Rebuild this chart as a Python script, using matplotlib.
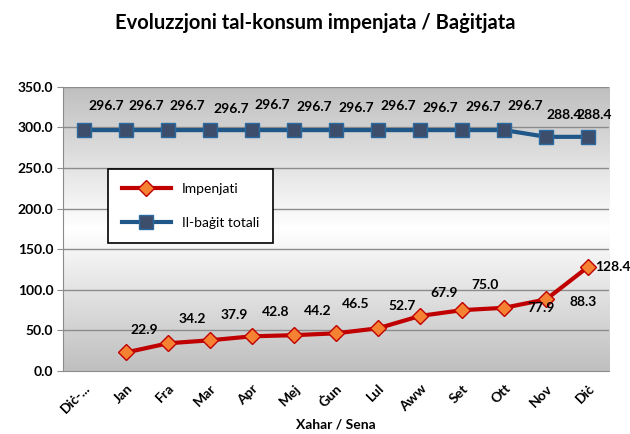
import matplotlib.pyplot as plt
import numpy as np
from matplotlib.colors import LinearSegmentedColormap

months = ['Diċ-...', 'Jan', 'Fra', 'Mar', 'Apr', 'Mej', 'Ġun', 'Lul',
          'Aww', 'Set', 'Ott', 'Nov', 'Diċ']
impenjati = [np.nan, 22.9, 34.2, 37.9, 42.8, 44.2, 46.5, 52.7,
             67.9, 75.0, 77.9, 88.3, 128.4]
baghit = [296.7, 296.7, 296.7, 296.7, 296.7, 296.7, 296.7, 296.7,
          296.7, 296.7, 296.7, 288.4, 288.4]
yticks = [0, 50, 100, 150, 200, 250, 300, 350]

# label offsets in pixels (Excel placed them a bit oddly)
red_offsets = [None, (18, 22), (24, 24), (24, 25), (24, 24), (24, 24), (20, 29),
               (24, 22), (24, 23), (23, 25), (37, 0), (37, -3), (7, 0)]
blue_offsets = [(22, 24), (20, 24), (19, 24), (21, 21), (20, 25), (20, 23), (20, 22),
                (20, 24), (20, 22), (21, 23), (21, 24), (18, 22), (6, 22)]

plt.rcParams['font.family'] = ['Lato', 'DejaVu Sans']

fig = plt.figure(figsize=(6.3, 4.34), dpi=100)
ax = fig.add_axes([0.1, 0.145, 0.867, 0.655])

x = np.arange(len(months))

# gray-white-gray background gradient
cmap = LinearSegmentedColormap.from_list(
    'bg', [(0, '#bfbfbf'), (0.5, '#ffffff'), (1, '#bfbfbf')])
grad = np.linspace(0, 1, 256).reshape(-1, 1)
ax.imshow(grad, cmap=cmap, aspect='auto', extent=[-0.5, 12.5, 0, 350],
          origin='lower', zorder=0)

ax.set_xlim(-0.5, 12.5)
ax.set_ylim(0, 350)
ax.set_yticks(yticks)
ax.set_yticklabels(['%.1f' % v for v in yticks], fontsize=10, fontweight='bold')
for v in yticks[1:]:
    ax.axhline(v, color='#8c8c8c', lw=1, zorder=1)

ax.plot(x, baghit, color='#1f5788', lw=3, marker='s', markersize=10,
        markerfacecolor='#3c4e6c', markeredgecolor='#2a6aa0', markeredgewidth=1,
        label='Il-baġit totali', zorder=3)
ax.plot(x, impenjati, color='#c00000', lw=3, marker='D', markersize=8,
        markerfacecolor='#f58233', markeredgecolor='#c00000', markeredgewidth=1,
        label='Impenjati', zorder=4)

for i, v in enumerate(baghit):
    dx, dy = blue_offsets[i]
    ax.annotate('%.1f' % v, (i, v), xytext=(dx * 0.72, dy * 0.72),
                textcoords='offset points', ha='center', va='center',
                fontsize=10, fontweight='bold', zorder=5)
for i, v in enumerate(impenjati):
    if red_offsets[i] is None:
        continue
    dx, dy = red_offsets[i]
    ha = 'left' if i == len(impenjati) - 1 else 'center'
    ax.annotate('%.1f' % v, (i, v), xytext=(dx * 0.72, dy * 0.72),
                textcoords='offset points', ha=ha, va='center',
                fontsize=10, fontweight='bold', zorder=5)

ax.set_xticks(x)
ax.set_xticklabels(months, rotation=45, ha='right', rotation_mode='anchor',
                   fontsize=10, fontweight='bold')
ax.tick_params(axis='x', length=0, pad=8)
ax.tick_params(axis='y', length=4, color='#8c8c8c', pad=3)
for side in ['top', 'right']:
    ax.spines[side].set_visible(False)
ax.spines['left'].set_color('#8c8c8c')
ax.spines['bottom'].set_color('#8c8c8c')

ax.set_xlabel('Xahar / Sena', fontsize=10, fontweight='bold', labelpad=2)
fig.suptitle('Evoluzzjoni tal-konsum impenjata / Baġitjata', fontsize=14.5,
             fontweight='bold', y=0.97)

handles, labels = ax.get_legend_handles_labels()
leg = ax.legend(handles[::-1], labels[::-1], loc='upper left',
                bbox_to_anchor=(0.07, 0.735), fontsize=10, frameon=True,
                fancybox=False, edgecolor='black', framealpha=1,
                borderpad=1.0, labelspacing=1.6, handlelength=3.5)
leg.get_frame().set_linewidth(1.2)

fig.savefig('out.png', dpi=100)
